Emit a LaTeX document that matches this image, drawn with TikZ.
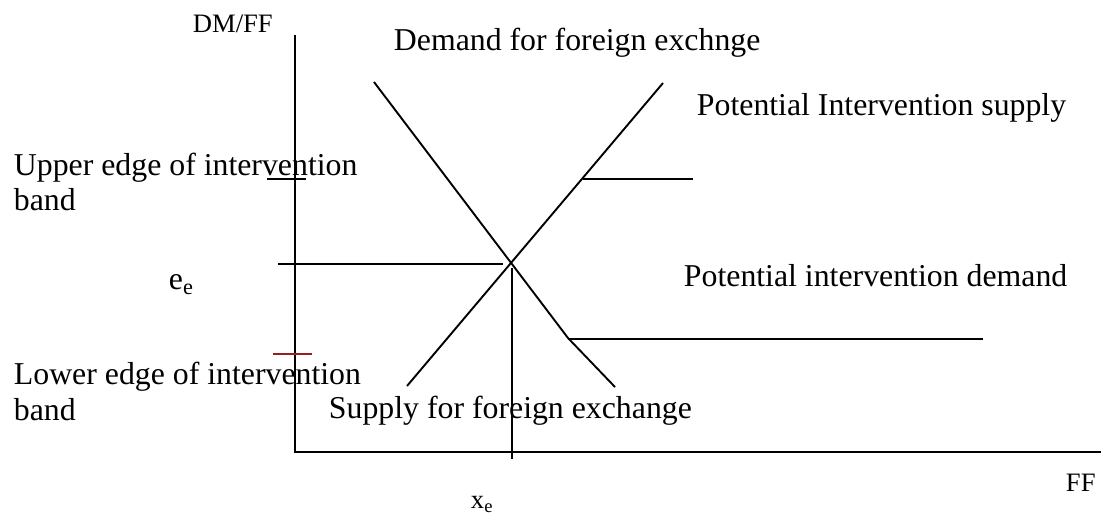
\documentclass[tikz,border=0pt]{standalone}
\usepackage{fontspec}
\setmainfont{Liberation Serif}
\definecolor{bandred}{RGB}{155,30,30}
\begin{document}
\begin{tikzpicture}[x=0.5pt,y=-0.5pt, line width=0.95pt,
  lbl/.style={anchor=base west, inner sep=0pt, font=\fontsize{15.9}{19}\selectfont},
  small/.style={anchor=base west, inner sep=0pt, font=\fontsize{13.3}{16}\selectfont},
  curve/.style={line width=0.95pt},
  tick/.style={line width=0.9pt}]
\useasboundingbox (0,0) rectangle (1101,516);
% axes
\coordinate (O) at (295,452);
\coordinate (ytop) at (295,35);
\coordinate (xend) at (1101,452);
\draw (ytop) -- (O) -- (xend);
% demand and supply
\coordinate (d1) at (374,82);
\coordinate (d2) at (568,338);
\coordinate (d3) at (615,387);
\coordinate (s1) at (407,386);
\coordinate (s2) at (663,83);
\draw[curve] (d1) -- (d2) -- (d3);
\draw[curve] (s1) -- (s2);
% equilibrium
\coordinate (eL) at (278,264);
\coordinate (eR) at (503,264);
\coordinate (xT) at (512,268);
\coordinate (xB) at (512,459);
\draw (eL) -- (eR);
\draw (xT) -- (xB);
% band edges
\coordinate (uL) at (267,179);
\coordinate (uR) at (306,179);
\draw[tick] (uL) -- (uR);
\coordinate (lL) at (273,354);
\coordinate (lR) at (312,354);
\draw[tick, bandred] (lL) -- (lR);
% intervention lines
\coordinate (pS1) at (583,179);
\coordinate (pS2) at (693,179);
\draw (pS1) -- (pS2);
\coordinate (pD2) at (983,339);
\draw (d2 |- pD2) -- (pD2);
% labels
\node[small] (ylab) at (192,32) {DM/FF};
\node[small] (xlab) at (1065,491) {FF};
\node[lbl] (dem) at (393,50) {Demand for foreign exchnge};
\node[lbl] (pis) at (696,115) {Potential Intervention supply};
\node[lbl] (up1) at (13,175) {Upper edge of intervention};
\node[lbl] (up2) at (13,210) {band};
\node[lbl] (ee) at (168,289) {e\textsubscript{e}};
\node[lbl] (pid) at (683,286) {Potential intervention demand};
\node[lbl] (lo1) at (13,384) {Lower edge of intervention};
\node[lbl] (lo2) at (13,420) {band};
\node[lbl] (sup) at (328,418) {Supply for foreign exchange};
\node[small] (xe) at (470,508) {x\textsubscript{e}};
\end{tikzpicture}
\end{document}
